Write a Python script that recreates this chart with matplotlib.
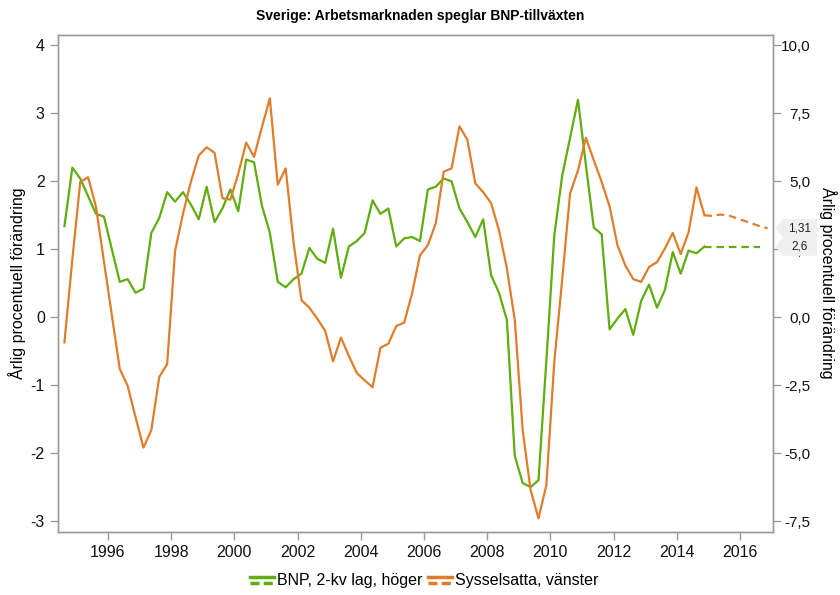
import numpy as np
import matplotlib
matplotlib.use("Agg")
import matplotlib.pyplot as plt
from matplotlib.lines import Line2D
from matplotlib.legend_handler import HandlerBase
from matplotlib.path import Path
from matplotlib.ticker import FuncFormatter, MultipleLocator

plt.rcParams["font.family"] = ["Liberation Sans", "DejaVu Sans"]
plt.rcParams["axes.unicode_minus"] = False

# quarterly series, first quarter 1994K3
start_year = 1994.625

# Sysselsatta, annual % change (left axis)
sysselsatta = [
    -0.37, 0.85, 1.99, 2.06, 1.62, 0.82, 0.03, -0.76, -1.01, -1.47,
    -1.92, -1.66, -0.88, -0.69, 0.97, 1.52, 1.99, 2.38, 2.50, 2.42,
    1.75, 1.73, 2.11, 2.57, 2.36, 2.80, 3.22, 1.95, 2.19, 1.10,
    0.25, 0.14, -0.02, -0.20, -0.65, -0.30, -0.57, -0.82, -0.93, -1.03,
    -0.45, -0.39, -0.13, -0.08, 0.35, 0.91, 1.06, 1.38, 2.14, 2.19,
    2.81, 2.61, 1.97, 1.84, 1.68, 1.28, 0.72, -0.04, -1.66, -2.54,
    -2.96, -2.47, -0.66, 0.55, 1.82, 2.16, 2.64, 2.31, 1.99, 1.63,
    1.06, 0.76, 0.56, 0.52, 0.74, 0.81, 1.01, 1.24, 0.93, 1.25,
    1.91, 1.50,
]
sysselsatta_prognos = [1.50, 1.49, 1.51, 1.50, 1.46, 1.42, 1.38, 1.34, 1.31]

# BNP, annual % change lagged two quarters (right axis)
bnp = [
    3.35, 5.5, 5.1, 4.45, 3.8, 3.7, 2.5, 1.3, 1.4, 0.9,
    1.05, 3.1, 3.65, 4.6, 4.25, 4.6, 4.15, 3.6, 4.8, 3.5,
    4.0, 4.7, 3.9, 5.8, 5.7, 4.1, 3.1, 1.3, 1.1, 1.4,
    1.6, 2.55, 2.15, 2.0, 3.25, 1.45, 2.6, 2.8, 3.1, 4.3,
    3.8, 4.0, 2.6, 2.9, 2.95, 2.8, 4.7, 4.8, 5.1, 5.0,
    4.0, 3.5, 2.95, 3.6, 1.55, 0.9, -0.1, -5.1, -6.1, -6.25,
    -6.0, -1.6, 3.0, 5.2, 6.6, 8.0, 5.6, 3.3, 3.05, -0.45,
    -0.05, 0.3, -0.65, 0.6, 1.2, 0.35, 1.0, 2.4, 1.6, 2.45,
    2.35, 2.6,
]
bnp_prognos = [2.6, 2.6, 2.6, 2.6, 2.6, 2.6, 2.6, 2.6]

green = "#5FAD0E"
orange = "#E07D2A"
frame = "#9a9a9a"
dash = (0, (3.4, 2.2))

t_hist = start_year + 0.25 * np.arange(len(sysselsatta))
t_syss_prog = t_hist[-1] + 0.25 * np.arange(len(sysselsatta_prognos))
t_bnp_prog = t_hist[-1] + 0.25 * np.arange(len(bnp_prognos))


class StackedLineHandler(HandlerBase):
    # solid line above a dashed one, like the series themselves
    def create_artists(self, legend, orig_handle, xdescent, ydescent,
                       width, height, fontsize, trans):
        c = orig_handle.get_color()
        lw = orig_handle.get_linewidth()
        x = [-xdescent, width - xdescent]
        top = Line2D(x, [0.75 * height - ydescent] * 2, color=c, lw=lw, transform=trans)
        bot = Line2D(x, [0.2 * height - ydescent] * 2, color=c, lw=lw,
                     linestyle=(0, (2.6, 1.2)), transform=trans)
        return [top, bot]


def tag_box(x0, y0, width, height, mutation_size):
    # fixed-size label tag with a pointed left end
    cx, cy = x0 + width / 2, y0 + height / 2
    hw, hh = 1.45 * mutation_size, 0.78 * mutation_size
    left, right = cx - hw, cx + hw
    tip = left - 0.6 * mutation_size
    return Path([(tip, cy), (left, cy + hh), (right, cy + hh),
                 (right, cy - hh), (left, cy - hh), (tip, cy)], closed=True)


fig = plt.figure(figsize=(8.4, 5.95), dpi=100)
ax = fig.add_axes([0.069, 0.106, 0.851, 0.836])
ax2 = ax.twinx()

ax2.plot(t_hist, bnp, color=green, lw=1.6)
ax2.plot(t_bnp_prog, bnp_prognos, color=green, lw=1.6, linestyle=dash)
ax.plot(t_hist, sysselsatta, color=orange, lw=1.6)
ax.plot(t_syss_prog, sysselsatta_prognos, color=orange, lw=1.6, linestyle=dash)
ax.set_zorder(ax2.get_zorder() + 1)
ax.patch.set_visible(False)

ax.set_xlim(1994.42, 2017.04)
ax.set_ylim(-3.16, 4.16)
ax2.set_ylim(-7.9, 10.4)

ax.xaxis.set_major_locator(MultipleLocator(2))
ax.xaxis.set_major_formatter(FuncFormatter(lambda v, p: f"{v:.0f}"))
ax.yaxis.set_major_locator(MultipleLocator(1))
ax.yaxis.set_major_formatter(FuncFormatter(lambda v, p: f"{v:.0f}"))
ax2.yaxis.set_major_locator(MultipleLocator(2.5))
ax2.yaxis.set_major_formatter(FuncFormatter(lambda v, p: f"{v:.1f}".replace(".", ",")))

for a in (ax, ax2):
    for s in a.spines.values():
        s.set_color(frame)
        s.set_linewidth(1.0)
    a.tick_params(direction="out", length=6, width=1, color=frame,
                  labelsize=11.5, labelcolor="#111111")
# right-hand tick labels are right aligned
ax2.tick_params(axis="y", labelsize=11, pad=21)
for lab in ax2.get_yticklabels():
    lab.set_horizontalalignment("right")

ax.set_ylabel("Årlig procentuell förändring", fontsize=11.5, va="center")
ax.yaxis.set_label_coords(-0.057, 0.5)
ax2.set_ylabel("Årlig procentuell förändring", fontsize=11.5, rotation=-90,
               va="center")
ax2.yaxis.set_label_coords(1.077, 0.5)

fig.suptitle("Sverige: Arbetsmarknaden speglar BNP-tillväxten",
             fontsize=10, fontweight="bold", y=0.985)

# value tags for the last forecast points
for val, yax, label in [(sysselsatta_prognos[-1], ax, "1,31"),
                        (bnp_prognos[-1], ax2, "2,6")]:
    yax.annotate(label, xy=(1.0, val), xycoords=("axes fraction", "data"),
                 xytext=(27, 0), textcoords="offset pixels",
                 ha="center", va="center", fontsize=8.5, color="#222222",
                 annotation_clip=False, zorder=10,
                 bbox=dict(boxstyle=tag_box, fc="#efefef", ec="none"))

h1 = Line2D([], [], color=green, lw=2.5)
h2 = Line2D([], [], color=orange, lw=2.5)
fig.legend([h1, h2], ["BNP, 2-kv lag, höger", "Sysselsatta, vänster"],
           handler_map={Line2D: StackedLineHandler()},
           loc="lower center", bbox_to_anchor=(0.505, -0.013), ncol=2,
           frameon=False, fontsize=11.5, handlelength=1.5, handletextpad=0.15,
           columnspacing=0.4)

fig.savefig("out.png", dpi=100)
